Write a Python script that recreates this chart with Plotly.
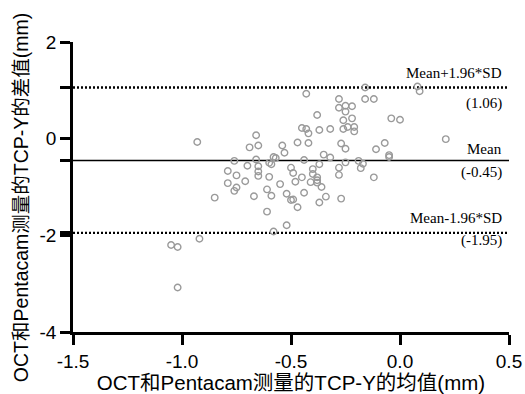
import plotly.graph_objects as go

mean_x = [0.08, 0.09, -0.16, -0.43, -0.28, -0.16, -0.12, -0.28, -0.25, -0.22,
          -0.25, -0.38, -0.26, -0.22, -0.04, 0.00, -0.45, -0.43, -0.42, -0.37,
          -0.32, -0.26, -0.24, -0.21, -0.21, -0.93, -0.66, -0.69, -0.65, -0.54,
          -0.53, -0.47, -0.42, -0.27, -0.25, -0.11, -0.07, 0.21,
          -0.76, -0.66, -0.70, -0.65, -0.65, -0.65, -0.60, -0.59, -0.58, -0.57,
          -0.50, -0.49, -0.79, -0.75, -0.79, -0.75, -0.76, -0.71, -0.60, -0.55,
          -0.61, -0.59, -0.67, -0.85, -0.52, -0.50, -0.49, -0.48, -0.47, -0.61,
          -0.52, -0.58, -0.92, -1.05, -1.02, -1.02, -0.45, -0.44, -0.44, -0.40,
          -0.40, -0.38, -0.38, -0.41, -0.38, -0.37, -0.36, -0.34, -0.37, -0.27,
          -0.35, -0.32, -0.28, -0.28, -0.25, -0.19, -0.17, -0.18, -0.12, -0.05,
          -0.05]
diff_y = [1.08, 0.98, 1.06, 0.93, 0.82, 0.82, 0.82, 0.64, 0.68, 0.67,
          0.56, 0.49, 0.38, 0.42, 0.42, 0.39, 0.22, 0.20, 0.11, 0.18,
          0.20, 0.20, 0.24, 0.24, 0.15, -0.07, 0.07, -0.18, -0.14, -0.14,
          -0.29, -0.08, -0.09, -0.10, -0.21, -0.22, -0.09, -0.01,
          -0.46, -0.43, -0.56, -0.57, -0.68, -0.77, -0.50, -0.53, -0.38, -0.40,
          -0.60, -0.71, -0.67, -0.76, -0.92, -1.01, -1.08, -0.88, -0.79, -0.94,
          -1.05, -1.18, -1.19, -1.22, -1.14, -1.27, -1.26, -0.89, -1.42, -1.51,
          -1.79, -1.92, -2.07, -2.20, -2.24, -3.08, -0.80, -1.12, -0.44, -0.63,
          -0.73, -0.80, -0.86, -0.90, -0.91, -0.53, -1.00, -1.20, -1.32, -1.24,
          -0.33, -0.39, -0.60, -0.75, -0.49, -0.46, -0.52, -0.61, -0.80, -0.34,
          -0.38]

mean_val = -0.45
upper_val = 1.06
lower_val = -1.95

x_ticks = [-1.5, -1.0, -0.5, 0.0, 0.5]
x_tick_text = ["-1.5", "-1.0", "-0.5", "0.0", "0.5"]
y_ticks = [2, upper_val, 0, mean_val, lower_val, -2, -4]
y_tick_text = ["2", "", "0", "", "", "-2", "-4"]

x_title = "OCT和Pentacam测量的TCP-Y的均值(mm)"
y_title = "OCT和Pentacam测量的TCP-Y的差值(mm)"

fig = go.Figure()
fig.add_trace(go.Scatter(
    x=mean_x, y=diff_y, mode="markers",
    marker=dict(symbol="circle-open", size=6.5, color="#9a9a9a",
                line=dict(width=1.4, color="#9a9a9a")),
    showlegend=False, hoverinfo="skip"))

for val, dash, w in [(upper_val, "2px,2px", 2.4), (lower_val, "2px,2px", 2.4), (mean_val, "solid", 1.5)]:
    fig.add_shape(type="line", xref="x", yref="y", x0=-1.5, x1=0.5, y0=val, y1=val,
                  line=dict(color="black", width=w, dash=dash), layer="below")

serif = "Liberation Serif, Times New Roman, serif"
# (value, text, pixel shift: positive = up)
labels = [
    (upper_val, "Mean+1.96*SD", 14), (upper_val, "(1.06)", -16),
    (mean_val, "Mean", 11), (mean_val, "(-0.45)", -12),
    (lower_val, "Mean-1.96*SD", 15), (lower_val, "(-1.95)", -8),
]
for val, txt, sh in labels:
    fig.add_annotation(x=0.5, y=val, xref="x", yref="y", text=txt, showarrow=False,
                       xanchor="right", yanchor="middle", yshift=sh, xshift=-5,
                       font=dict(family=serif, size=15, color="black"))

sans = "Liberation Sans, Arial, sans-serif"
cjk = "Liberation Sans, Noto Sans CJK SC, sans-serif"

fig.add_annotation(x=-0.119, y=0.462, xref="paper", yref="paper", text=y_title,
                   showarrow=False, textangle=-90, xanchor="center", yanchor="middle",
                   font=dict(size=19.5, family=cjk, color="black"))

fig.update_layout(
    width=525, height=394,
    margin=dict(l=73, r=16, t=42, b=62),
    plot_bgcolor="white", paper_bgcolor="white",
    font=dict(family=sans, color="black"),
    xaxis=dict(range=[-1.5, 0.5], tickvals=x_ticks, ticktext=x_tick_text,
               automargin=False,
               showgrid=False, zeroline=False, showline=True, linecolor="black",
               linewidth=2.5, ticks="outside", ticklen=10, tickwidth=2.5, tickcolor="black",
               tickfont=dict(size=19, family=sans),
               title=dict(text=x_title, standoff=4,
                          font=dict(size=20.5, family=cjk))),
    yaxis=dict(range=[-4, 2], tickvals=y_ticks, ticktext=y_tick_text,
               automargin=False,
               showgrid=False, zeroline=False, showline=True, linecolor="black",
               linewidth=2.5, ticks="outside", ticklen=10, tickwidth=2.5, tickcolor="black",
               tickfont=dict(size=19, family=sans)),
)

fig.write_html("out.html")
